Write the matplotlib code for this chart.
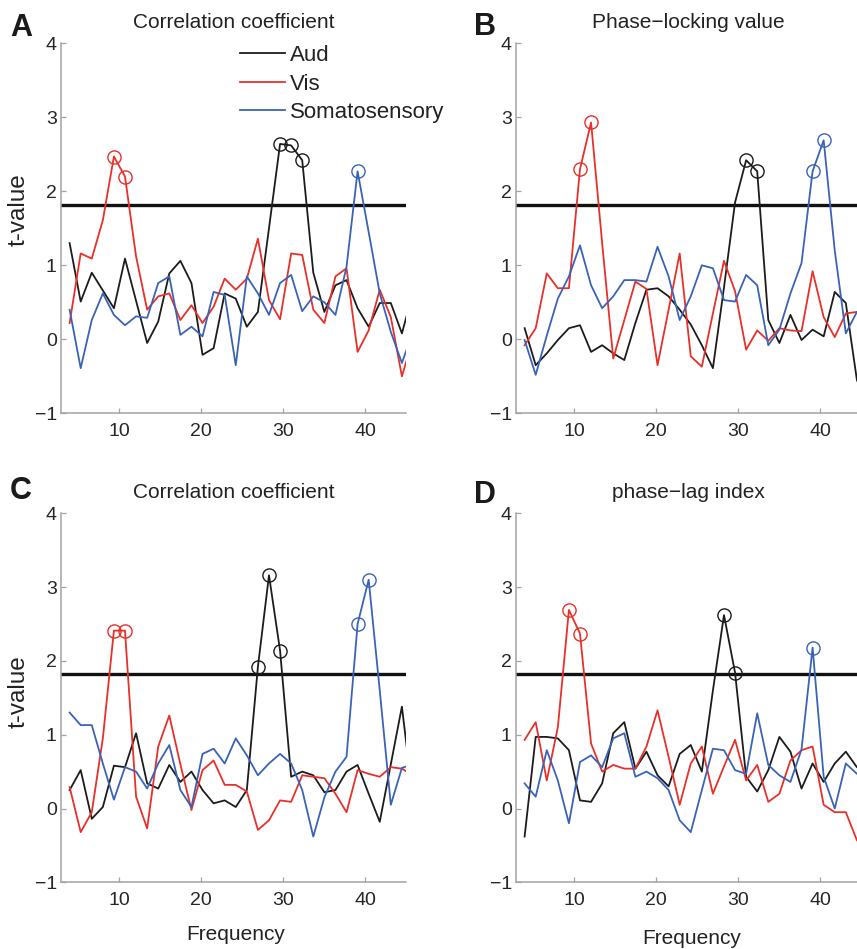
import matplotlib
matplotlib.use("Agg")
import matplotlib.pyplot as plt

plt.rcParams['font.family'] = ['Liberation Sans', 'DejaVu Sans']

# Frequencies (Hz) of the sampled points
freqs = [3.95, 5.30, 6.65, 8.00, 9.35, 10.70, 12.05, 13.40, 14.75, 16.10, 17.45,
         18.80, 20.15, 21.50, 22.85, 24.20, 25.55, 26.90, 28.25, 29.60, 30.95,
         32.30, 33.65, 35.00, 36.35, 37.70, 39.05, 40.40, 41.75, 43.10, 44.45, 45.80]

series_names = ["Aud", "Vis", "Somatosensory"]
threshold = 1.82

# Panel A: Correlation coefficient
A_aud = [1.30, 0.51, 0.90, 0.66, 0.42, 1.09, 0.52, -0.05, 0.24, 0.89, 1.06, 0.76, -0.21, -0.12, 0.62, 0.55,
         0.17, 0.37, 1.50, 2.64, 2.62, 2.42, 0.90, 0.37, 0.73, 0.80, 0.42, 0.17, 0.49, 0.49, 0.08, 0.63]
A_vis = [0.22, 1.16, 1.09, 1.61, 2.47, 2.20, 1.12, 0.40, 0.58, 0.62, 0.26, 0.46, 0.22, 0.44, 0.82, 0.67,
         0.82, 1.36, 0.53, 0.27, 1.16, 1.14, 0.40, 0.22, 0.85, 0.96, -0.17, 0.12, 0.67, 0.30, -0.50, 0.00]
A_som = [0.40, -0.39, 0.26, 0.62, 0.33, 0.19, 0.31, 0.29, 0.76, 0.85, 0.06, 0.17, 0.04, 0.64, 0.60, -0.35,
         0.85, 0.62, 0.33, 0.76, 0.87, 0.38, 0.58, 0.50, 0.33, 0.98, 2.27, 1.45, 0.62, 0.10, -0.32, 0.10]
A_sig = {"Aud": [19, 20, 21], "Vis": [4, 5], "Somatosensory": [26]}

# Panel B: Phase-locking value
B_aud = [0.15, -0.35, -0.19, -0.01, 0.15, 0.19, -0.17, -0.08, -0.19, -0.28, 0.22, 0.67, 0.69, 0.58, 0.40, 0.20,
         -0.08, -0.39, 0.70, 1.85, 2.42, 2.27, 0.26, -0.05, 0.33, -0.01, 0.13, 0.04, 0.64, 0.49, -0.55, -0.90]
B_vis = [-0.08, 0.15, 0.89, 0.69, 0.69, 2.30, 2.93, 1.30, -0.26, 0.26, 0.78, 0.68, -0.35, 0.40, 1.16, -0.23,
         -0.37, 0.35, 1.06, 0.65, -0.14, 0.12, -0.02, 0.15, 0.12, 0.11, 0.92, 0.30, 0.03, 0.35, 0.37, 0.38]
B_som = [-0.01, -0.48, 0.05, 0.55, 0.85, 1.27, 0.73, 0.42, 0.58, 0.80, 0.80, 0.78, 1.25, 0.85, 0.26, 0.58,
         1.00, 0.96, 0.53, 0.51, 0.87, 0.73, -0.08, 0.13, 0.62, 1.03, 2.27, 2.69, 1.20, 0.08, 0.37, 0.45]
B_sig = {"Aud": [20, 21], "Vis": [5, 6], "Somatosensory": [26, 27]}

# Panel C: Correlation coefficient
C_aud = [0.25, 0.52, -0.14, 0.02, 0.58, 0.56, 1.02, 0.34, 0.27, 0.59, 0.36, 0.50, 0.25, 0.07, 0.11, 0.02,
         0.25, 1.92, 3.16, 2.14, 0.43, 0.50, 0.45, 0.22, 0.25, 0.50, 0.59, 0.20, -0.18, 0.60, 1.38, 0.13]
C_vis = [0.29, -0.32, -0.05, 0.95, 2.41, 2.41, 0.16, -0.27, 0.84, 1.26, 0.60, -0.02, 0.52, 0.65, 0.32, 0.32,
         0.23, -0.29, -0.16, 0.11, 0.09, 0.45, 0.43, 0.41, 0.20, -0.05, 0.52, 0.47, 0.43, 0.56, 0.54, 0.45]
C_som = [1.30, 1.13, 1.13, 0.61, 0.12, 0.56, 0.50, 0.27, 0.61, 0.86, 0.25, 0.02, 0.74, 0.81, 0.61, 0.95,
         0.72, 0.45, 0.61, 0.74, 0.61, 0.25, -0.38, 0.15, 0.50, 0.70, 2.50, 3.10, 1.60, 0.05, 0.55, 0.60]
C_sig = {"Aud": [17, 18, 19], "Vis": [4, 5], "Somatosensory": [26, 27]}

# Panel D: phase-lag index
D_aud = [-0.38, 0.97, 0.97, 0.95, 0.79, 0.11, 0.09, 0.34, 1.02, 1.17, 0.54, 0.77, 0.45, 0.30, 0.74, 0.86,
         0.50, 1.60, 2.62, 1.84, 0.43, 0.23, 0.52, 0.97, 0.77, 0.27, 0.61, 0.36, 0.61, 0.77, 0.56, 0.50]
D_vis = [0.93, 1.17, 0.38, 1.10, 2.69, 2.37, 0.88, 0.50, 0.59, 0.54, 0.54, 0.84, 1.33, 0.70, 0.05, 0.61,
         0.84, 0.20, 0.57, 0.93, 0.38, 0.59, 0.09, 0.20, 0.65, 0.79, 0.84, 0.05, -0.05, -0.05, -0.43, -0.60]
D_som = [0.34, 0.16, 0.79, 0.38, -0.20, 0.63, 0.72, 0.56, 0.95, 1.02, 0.43, 0.50, 0.41, 0.25, -0.16, -0.32,
         0.25, 0.81, 0.79, 0.52, 0.47, 1.29, 0.59, 0.45, 0.36, 0.80, 2.18, 0.43, 0.00, 0.61, 0.47, 0.45]
D_sig = {"Aud": [18, 19], "Vis": [4, 5], "Somatosensory": [26]}

panel_letters = ["A", "B", "C", "D"]
panel_titles = ["Correlation coefficient", "Phase\u2212locking value",
                "Correlation coefficient", "phase\u2212lag index"]
xticks = [10, 20, 30, 40]
yticks = [-1, 0, 1, 2, 3, 4]

colors = {"Aud": "#1c1c1c", "Vis": "#e8302a", "Somatosensory": "#3a63b8"}

W, H = 857, 949
fig = plt.figure(figsize=(W / 100, H / 100), dpi=100)

def fr(x, y, w, h):
    return [x / W, 1 - (y + h) / H, w / W, h / H]

rects = [fr(61, 43.3, 345, 370), fr(516, 43.3, 345, 370),
         fr(61, 513.3, 345, 369), fr(516, 513.3, 345, 369)]

panels = [
    (A_aud, A_vis, A_som, A_sig),
    (B_aud, B_vis, B_som, B_sig),
    (C_aud, C_vis, C_som, C_sig),
    (D_aud, D_vis, D_som, D_sig),
]

spine_col = "#a3a3a3"
axes = []
for i, (rect, (aud, vis, som, sig)) in enumerate(zip(rects, panels)):
    ax = fig.add_axes(rect)
    axes.append(ax)
    data = {"Aud": aud, "Vis": vis, "Somatosensory": som}
    lines = []
    for name in series_names:
        vals = data[name]
        ln, = ax.plot(freqs, vals, color=colors[name], lw=1.3, label=name, zorder=3)
        lines.append(ln)
        idx = sig[name]
        ax.plot([freqs[k] for k in idx], [vals[k] for k in idx], linestyle="none",
                marker="o", markersize=9.5, markerfacecolor="none",
                markeredgecolor=colors[name], markeredgewidth=1.0, zorder=4)
    ax.axhline(threshold, color="#111111", lw=2.4, zorder=2)
    ax.set_xlim(2.9, 44.95)
    ax.set_ylim(-1, 4)
    ax.set_xticks(xticks)
    ax.set_yticks(yticks)
    for s in ["top", "right"]:
        ax.spines[s].set_visible(False)
    for s in ["left", "bottom"]:
        ax.spines[s].set_color(spine_col)
        ax.spines[s].set_linewidth(1.1)
    ax.tick_params(axis="both", direction="in", length=3.5, width=0.9, color=spine_col,
                   labelsize=14, labelcolor="#262626")
    ax.tick_params(axis="x", pad=7)
    ax.tick_params(axis="y", pad=3)
    ax.set_title(panel_titles[i], fontsize=15, color="#222222", pad=11)
    if i == 0:
        ax.legend(handles=lines, loc="upper left", bbox_to_anchor=(240 / W, 1 - 45 / H),
                  bbox_transform=fig.transFigure, frameon=False, fontsize=16,
                  borderpad=0, borderaxespad=0, handlelength=2.03, handletextpad=0.2,
                  labelspacing=0.34, labelcolor="#222222")

# Panel letters
for letter, (x, y) in zip(panel_letters, [(21, 28), (485, 27), (21, 491), (485, 495)]):
    fig.text(x / W, 1 - y / H, letter, fontsize=22, fontweight="bold",
             ha="center", va="center", color="#1a1a1a")

# Axis labels
fig.text(19 / W, 1 - 210 / H, "t-value", rotation=90, fontsize=17.5,
         ha="center", va="center", color="#222222")
fig.text(19 / W, 1 - 692 / H, "t-value", rotation=90, fontsize=17.5,
         ha="center", va="center", color="#222222")
fig.text(236 / W, 1 - 935 / H, "Frequency", fontsize=15,
         ha="center", va="center", color="#222222")
fig.text(692 / W, 1 - 938 / H, "Frequency", fontsize=15,
         ha="center", va="center", color="#222222")

fig.savefig("out.png", dpi=100)
